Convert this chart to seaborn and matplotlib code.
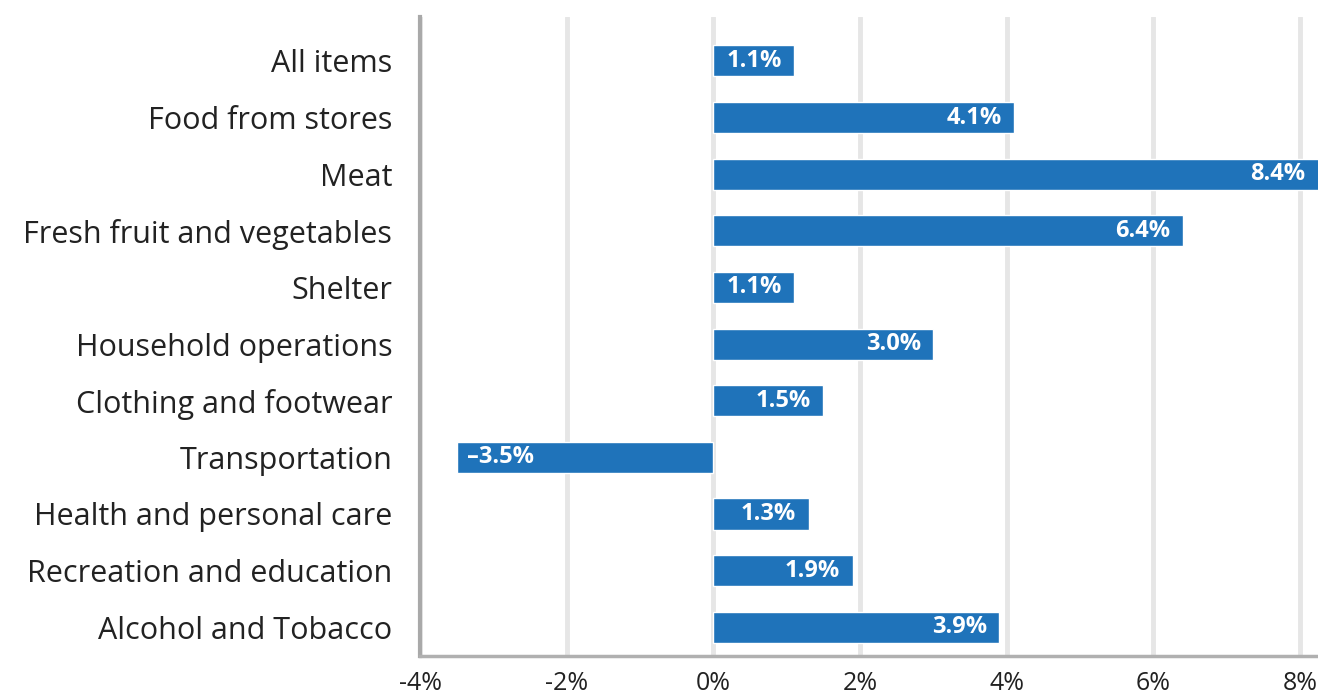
import seaborn as sns
import matplotlib.pyplot as plt
import pandas as pd

categories = ["All items", "Food from stores", "Meat", "Fresh fruit and vegetables",
              "Shelter", "Household operations", "Clothing and footwear",
              "Transportation", "Health and personal care",
              "Recreation and education", "Alcohol and Tobacco"]
changes = [1.1, 4.1, 8.4, 6.4, 1.1, 3.0, 1.5, -3.5, 1.3, 1.9, 3.9]
x_ticks = [-4, -2, 0, 2, 4, 6, 8]

df = pd.DataFrame({"Category": categories, "Change": changes})

sns.set_style("white")
plt.rcParams['font.family'] = ['Open Sans', 'DejaVu Sans']

fig = plt.figure(figsize=(13.18, 6.98), dpi=100)
ax = fig.add_axes([0.3187, 0.06, 0.6813, 0.916])

sns.barplot(data=df, x="Change", y="Category", orient="h", color="#1f73ba",
            saturation=1, width=0.55, ax=ax, zorder=3)

ax.set_xlim(-4, 8.245)
ax.set_ylim(10.51, -0.78)
ax.set_xticks(x_ticks)
ax.set_xticklabels([f"{t}%" for t in x_ticks])
ax.grid(axis="x", color="#e6e6e6", linewidth=3.5, zorder=0)
ax.set_axisbelow(True)
ax.set_xlabel("")
ax.set_ylabel("")

for s in ["top", "right"]:
    ax.spines[s].set_visible(False)
ax.spines["left"].set_color("#a9a9a9")
ax.spines["left"].set_linewidth(3)
ax.spines["bottom"].set_color("#b0b0b0")
ax.spines["bottom"].set_linewidth(2.5)
ax.spines["bottom"].set_zorder(4)

ax.tick_params(axis="x", colors="#e6e6e6", length=9, width=3.5, labelsize=18,
               labelcolor="#222222", pad=2)
ax.tick_params(axis="y", length=0, labelsize=22, labelcolor="#222222", pad=20)
for lbl in ax.get_yticklabels():
    lbl.set_va("center_baseline")

# value labels inside bar ends
for i, v in enumerate(changes):
    shown = min(v, 8.245)
    if v >= 0:
        ax.text(shown - 0.17, i, f"{v:.1f}%", color="white", fontweight="bold",
                fontsize=17, ha="right", va="center", zorder=5)
    else:
        ax.text(v + 0.14, i, f"{v:.1f}%".replace("-", "\u2013"), color="white",
                fontweight="bold", fontsize=17, ha="left", va="center", zorder=5)

plt.savefig("out.png", dpi=100)
